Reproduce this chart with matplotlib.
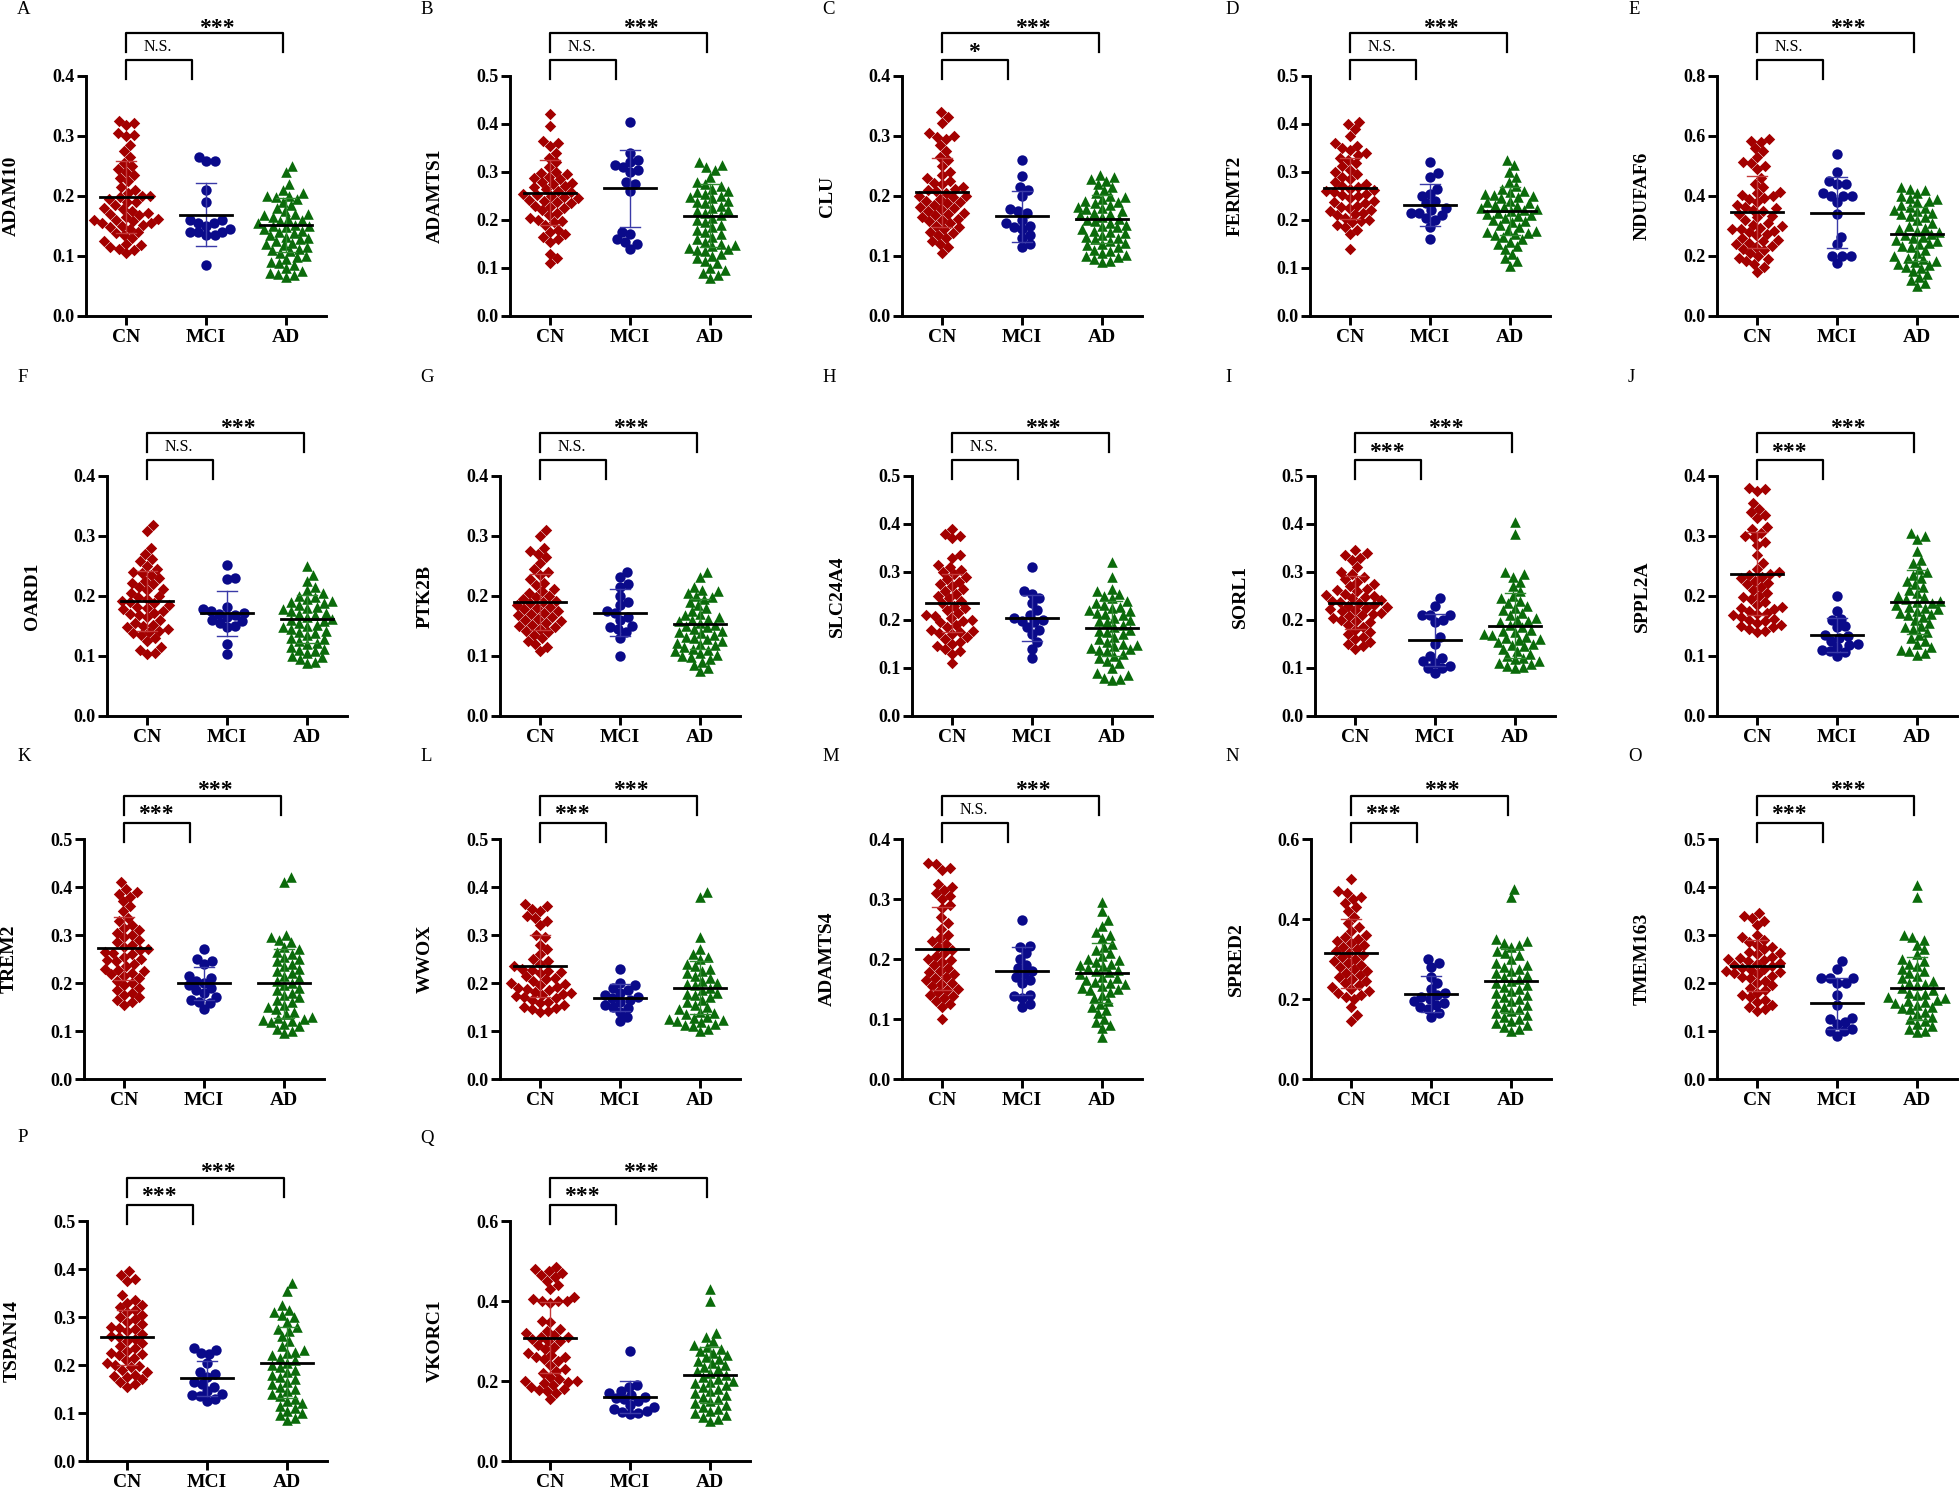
import numpy as np
import matplotlib
matplotlib.use('Agg')
import matplotlib.pyplot as plt
from matplotlib import transforms

plt.rcParams['font.family'] = 'Liberation Serif'

GROUPS = ['CN', 'MCI', 'AD']
GENES = ['ADAM10', 'ADAMTS1', 'CLU', 'FERMT2', 'NDUFAF6', 'OARD1', 'PTK2B', 'SLC24A4', 'SORL1',
         'SPPL2A', 'TREM2', 'WWOX', 'ADAMTS4', 'SPRED2', 'TMEM163', 'TSPAN14', 'VKORC1']
LETTERS = list('ABCDEFGHIJKLMNOPQ')
YMAX = [0.4, 0.5, 0.4, 0.5, 0.8, 0.4, 0.4, 0.5, 0.5, 0.4, 0.5, 0.5, 0.4, 0.6, 0.5, 0.5, 0.6]
YSTEP = [0.1, 0.1, 0.1, 0.1, 0.2, 0.1, 0.1, 0.1, 0.1, 0.1, 0.1, 0.1, 0.1, 0.2, 0.1, 0.1, 0.2]
SIG_MCI = ['N.S.', 'N.S.', '*', 'N.S.', 'N.S.', 'N.S.', 'N.S.', 'N.S.', '***', '***',
           '***', '***', 'N.S.', '***', '***', '***', '***']
SIG_AD = ['***'] * 17

MEAN_CN = [0.198, 0.257, 0.206, 0.266, 0.348, 0.192, 0.190, 0.236, 0.236, 0.237, 0.272, 0.235, 0.217, 0.314, 0.236, 0.258, 0.308]
SD_CN = [0.060, 0.068, 0.058, 0.063, 0.120, 0.050, 0.046, 0.060, 0.055, 0.069, 0.066, 0.065, 0.069, 0.086, 0.053, 0.057, 0.089]
MEAN_MCI = [0.169, 0.266, 0.166, 0.232, 0.345, 0.171, 0.172, 0.205, 0.158, 0.135, 0.199, 0.169, 0.180, 0.213, 0.158, 0.172, 0.160]
SD_MCI = [0.053, 0.080, 0.043, 0.044, 0.117, 0.038, 0.039, 0.048, 0.054, 0.028, 0.035, 0.028, 0.040, 0.045, 0.053, 0.036, 0.039]
MEAN_AD = [0.151, 0.209, 0.161, 0.218, 0.274, 0.162, 0.153, 0.183, 0.188, 0.190, 0.199, 0.190, 0.176, 0.245, 0.189, 0.205, 0.214]
SD_AD = [0.045, 0.065, 0.040, 0.050, 0.090, 0.040, 0.042, 0.057, 0.068, 0.053, 0.072, 0.055, 0.050, 0.080, 0.066, 0.074, 0.070]

ADAM10_CN = [.325, .322, .318, .305, .302, .300, .285, .275, .265, .255, .250, .245, .240, .235, .230, .225, .215, .210,
             .205, .200, .200, .198, .195, .190, .190, .185, .180, .178, .175, .172, .170, .168, .165, .162, .160, .160,
             .158, .155, .155, .152, .150, .148, .145, .140, .138, .135, .130, .125, .120, .118, .115, .112, .110, .105]
ADAM10_MCI = [.265, .258, .258, .210, .190, .160, .160, .155, .155, .150, .145, .140, .140, .140, .135, .135, .085]
ADAM10_AD = [.250, .240, .220, .210, .205, .200, .200, .198, .195, .190, .185, .180, .175, .170, .170, .168, .165, .162,
             .160, .158, .155, .152, .150, .150, .148, .145, .142, .140, .138, .135, .132, .130, .128, .125, .122, .120,
             .118, .115, .112, .110, .108, .105, .100, .098, .095, .090, .088, .085, .080, .075, .072, .070, .068, .065]

ADAMTS1_CN = [.420, .395, .365, .360, .355, .340, .330, .320, .310, .300, .298, .295, .290, .288, .285, .280, .278, .275,
              .270, .268, .265, .260, .258, .255, .252, .250, .248, .245, .242, .240, .238, .235, .230, .228, .225, .220,
              .215, .210, .205, .200, .198, .195, .190, .180, .175, .170, .165, .160, .155, .130, .120, .110]
ADAMTS1_MCI = [.405, .340, .325, .320, .315, .310, .305, .300, .280, .275, .260, .175, .170, .160, .155, .150, .140]
ADAMTS1_AD = [.320, .315, .310, .305, .290, .280, .275, .270, .265, .260, .258, .255, .250, .248, .245, .240, .238, .235,
              .230, .225, .220, .218, .215, .210, .205, .200, .195, .190, .185, .180, .175, .170, .165, .160, .155, .150,
              .148, .145, .142, .140, .138, .135, .130, .125, .120, .115, .110, .100, .095, .090, .085, .080]

CLU_CN = [.340, .332, .322, .305, .300, .298, .295, .285, .275, .265, .260, .250, .240, .235, .230, .225, .222, .220,
          .215, .212, .210, .208, .205, .200, .200, .198, .195, .192, .190, .188, .185, .182, .180, .178, .175, .172,
          .170, .168, .165, .162, .160, .158, .155, .150, .148, .145, .140, .138, .135, .130, .125, .120, .115, .105]
CLU_MCI = [.260, .233, .215, .210, .200, .178, .175, .172, .160, .155, .150, .148, .145, .135, .130, .120, .115]
CLU_AD = [.235, .232, .228, .225, .220, .215, .210, .205, .200, .198, .195, .192, .190, .188, .185, .182, .180, .178,
          .175, .172, .170, .168, .165, .162, .160, .158, .155, .152, .150, .148, .145, .142, .140, .138, .135, .132,
          .130, .128, .125, .122, .120, .118, .115, .110, .108, .105, .102, .100, .098, .095, .092, .090]

FERMT2_CN = [.405, .400, .390, .375, .360, .355, .350, .345, .340, .335, .330, .325, .318, .312, .305, .300, .295, .290,
             .285, .280, .275, .270, .268, .265, .262, .260, .258, .255, .252, .250, .245, .240, .238, .235, .230, .228,
             .225, .220, .218, .215, .212, .210, .205, .200, .198, .195, .190, .185, .180, .170, .140]
FERMT2_MCI = [.320, .298, .290, .265, .255, .250, .240, .235, .225, .220, .215, .215, .210, .205, .200, .185, .160]
FERMT2_AD = [.325, .315, .300, .290, .280, .270, .265, .260, .258, .255, .252, .250, .248, .245, .240, .238, .235, .232,
             .230, .228, .225, .222, .220, .218, .215, .212, .210, .208, .205, .200, .198, .195, .190, .185, .180, .178,
             .175, .172, .170, .168, .165, .160, .155, .150, .145, .140, .130, .120, .115, .105]

NDUFAF6_CN = [.590, .585, .580, .560, .550, .530, .515, .510, .500, .490, .460, .440, .430, .415, .410, .405, .400, .395,
              .390, .380, .370, .365, .360, .355, .350, .340, .335, .330, .320, .310, .305, .300, .295, .290, .290, .285,
              .280, .275, .270, .260, .255, .250, .245, .240, .235, .230, .225, .220, .210, .200, .195, .190, .185, .175,
              .165, .148]
NDUFAF6_MCI = [.540, .480, .450, .440, .440, .410, .400, .400, .400, .380, .340, .265, .240, .200, .200, .200, .178]
NDUFAF6_AD = [.430, .425, .420, .410, .400, .395, .390, .385, .380, .370, .365, .360, .355, .350, .345, .340, .335, .330,
              .320, .310, .300, .295, .290, .285, .280, .275, .270, .265, .260, .255, .250, .245, .240, .235, .230, .220,
              .210, .200, .195, .190, .185, .180, .175, .170, .165, .160, .150, .140, .130, .120, .110, .100]

OARD1_CN = [.318, .308, .280, .270, .262, .258, .250, .245, .240, .238, .235, .230, .225, .222, .220, .215, .212, .210,
            .205, .200, .198, .195, .192, .190, .188, .185, .182, .180, .178, .175, .172, .170, .168, .165, .160, .155,
            .152, .150, .148, .145, .142, .140, .138, .135, .130, .125, .115, .110, .105, .103]
OARD1_MCI = [.252, .230, .228, .182, .178, .175, .172, .170, .168, .165, .160, .158, .155, .150, .148, .120, .103]
OARD1_AD = [.250, .235, .225, .215, .210, .205, .200, .198, .195, .192, .190, .188, .185, .182, .180, .178, .175, .172,
            .170, .168, .165, .162, .160, .158, .155, .152, .150, .148, .145, .142, .140, .138, .135, .130, .128, .125,
            .122, .120, .115, .112, .110, .108, .105, .100, .098, .095, .090, .088]

PTK2B_CN = [.310, .300, .280, .275, .270, .265, .255, .245, .240, .235, .228, .222, .218, .212, .208, .205, .200, .198,
            .195, .192, .190, .188, .185, .182, .180, .178, .175, .172, .170, .168, .165, .162, .160, .158, .155, .152,
            .150, .148, .145, .142, .140, .135, .130, .125, .120, .115, .108]
PTK2B_MCI = [.240, .232, .220, .215, .200, .190, .185, .175, .172, .165, .160, .150, .148, .145, .140, .130, .100]
PTK2B_AD = [.240, .232, .215, .210, .208, .205, .200, .198, .195, .190, .185, .180, .175, .170, .168, .165, .162, .160,
            .158, .155, .152, .150, .148, .145, .142, .140, .138, .135, .132, .130, .128, .125, .122, .120, .118, .115,
            .112, .110, .108, .105, .102, .100, .098, .095, .090, .085, .080, .075]

SLC24A4_CN = [.390, .380, .375, .370, .335, .330, .315, .310, .305, .300, .295, .290, .285, .280, .275, .270, .265, .260,
              .255, .250, .245, .240, .235, .230, .225, .220, .215, .210, .208, .205, .200, .198, .195, .190, .185, .180,
              .178, .175, .172, .170, .165, .160, .155, .150, .145, .140, .135, .130, .110]
SLC24A4_MCI = [.310, .260, .255, .245, .235, .220, .210, .205, .200, .198, .195, .185, .180, .170, .155, .140, .120]
SLC24A4_AD = [.320, .290, .265, .260, .255, .250, .245, .240, .235, .232, .228, .225, .220, .218, .215, .212, .210, .205,
              .200, .198, .195, .190, .185, .180, .178, .175, .170, .165, .160, .155, .150, .148, .145, .142, .140, .138,
              .135, .130, .125, .120, .115, .110, .100, .090, .085, .080, .078, .075]

SORL1_CN = [.345, .340, .335, .330, .325, .310, .300, .295, .290, .285, .280, .275, .270, .265, .262, .260, .255, .252,
            .250, .248, .245, .242, .240, .238, .235, .232, .230, .228, .225, .222, .220, .218, .215, .212, .210, .208,
            .205, .200, .198, .195, .190, .185, .180, .175, .170, .165, .160, .155, .150, .145, .140]
SORL1_MCI = [.245, .230, .210, .210, .210, .200, .195, .165, .150, .125, .120, .115, .110, .105, .100, .100, .090]
SORL1_AD = [.405, .380, .300, .295, .290, .280, .270, .260, .250, .245, .240, .235, .230, .225, .220, .215, .210, .205,
            .200, .198, .195, .190, .185, .180, .178, .175, .170, .168, .165, .162, .160, .158, .155, .150, .148, .145,
            .140, .135, .130, .125, .120, .118, .115, .110, .108, .105, .102, .100]

SPPL2A_CN = [.380, .378, .375, .355, .345, .340, .335, .330, .315, .312, .305, .300, .298, .290, .285, .268, .255, .245,
             .240, .236, .235, .232, .230, .225, .222, .220, .215, .210, .205, .200, .198, .195, .190, .185, .182, .180,
             .178, .175, .172, .170, .168, .165, .162, .160, .158, .155, .152, .150, .148, .145, .142, .140]
SPPL2A_MCI = [.200, .175, .162, .160, .150, .148, .135, .133, .130, .125, .120, .118, .115, .110, .108, .106, .100]
SPPL2A_AD = [.305, .300, .295, .275, .260, .255, .245, .240, .235, .230, .225, .220, .215, .210, .205, .200, .198, .195,
             .192, .190, .188, .185, .182, .180, .178, .175, .172, .170, .168, .165, .160, .155, .150, .148, .145, .140,
             .135, .130, .125, .120, .115, .110, .108, .105, .102]

TREM2_CN = [.410, .395, .390, .385, .380, .370, .360, .350, .335, .330, .320, .315, .310, .305, .300, .295, .290, .285,
            .280, .275, .270, .268, .265, .262, .260, .255, .250, .248, .245, .240, .235, .230, .228, .225, .220, .218,
            .215, .210, .205, .200, .195, .190, .185, .180, .175, .170, .165, .160, .155]
TREM2_MCI = [.270, .250, .245, .240, .215, .210, .205, .200, .195, .190, .185, .180, .170, .165, .160, .158, .145]
TREM2_AD = [.420, .410, .300, .295, .290, .285, .275, .270, .265, .260, .255, .250, .245, .240, .235, .230, .225, .220,
            .215, .210, .205, .200, .195, .190, .185, .180, .175, .170, .165, .160, .155, .150, .145, .140, .135, .130,
            .128, .125, .122, .120, .118, .115, .110, .105, .100, .095]

WWOX_CN = [.365, .360, .355, .350, .340, .335, .330, .320, .300, .295, .280, .270, .260, .250, .245, .240, .235, .230,
           .228, .225, .222, .220, .215, .210, .208, .205, .200, .198, .195, .192, .190, .188, .185, .182, .180, .178,
           .175, .172, .170, .168, .165, .160, .158, .155, .150, .148, .145, .142, .140]
WWOX_MCI = [.230, .200, .195, .190, .185, .180, .175, .170, .168, .165, .160, .155, .150, .148, .140, .130, .120]
WWOX_AD = [.390, .380, .295, .270, .260, .255, .250, .240, .235, .230, .225, .220, .215, .210, .205, .200, .198, .195,
           .190, .185, .180, .178, .175, .170, .165, .160, .155, .150, .145, .140, .138, .135, .130, .128, .125, .122,
           .120, .118, .115, .112, .110, .105, .100]

ADAMTS4_CN = [.360, .358, .352, .348, .325, .320, .315, .310, .305, .300, .290, .285, .270, .260, .250, .240, .235, .230,
              .225, .220, .215, .210, .205, .200, .198, .195, .190, .185, .180, .178, .175, .170, .168, .165, .160, .158,
              .155, .150, .148, .145, .140, .138, .135, .130, .125, .120, .100]
ADAMTS4_MCI = [.265, .222, .220, .210, .200, .190, .185, .180, .175, .170, .165, .160, .140, .138, .135, .125, .120]
ADAMTS4_AD = [.295, .280, .265, .255, .245, .240, .235, .225, .220, .215, .210, .205, .200, .198, .195, .192, .190, .188,
              .185, .182, .180, .178, .175, .170, .168, .165, .162, .160, .158, .155, .152, .150, .148, .145, .140, .135,
              .130, .125, .120, .115, .110, .100, .095, .090, .085, .070]

SPRED2_CN = [.500, .470, .465, .455, .450, .440, .430, .420, .405, .390, .380, .370, .360, .355, .350, .345, .340, .335,
             .330, .325, .320, .315, .310, .305, .300, .295, .290, .285, .280, .275, .270, .265, .260, .255, .250, .245,
             .240, .235, .230, .225, .220, .215, .210, .205, .200, .180, .160, .145]
SPRED2_MCI = [.300, .290, .280, .255, .240, .225, .215, .210, .205, .200, .195, .190, .185, .180, .175, .165, .155]
SPRED2_AD = [.475, .455, .350, .345, .340, .335, .330, .320, .315, .310, .300, .290, .285, .280, .275, .270, .265, .260,
             .255, .250, .245, .240, .235, .230, .225, .220, .215, .210, .205, .200, .195, .190, .185, .180, .175, .170,
             .165, .160, .155, .150, .145, .140, .135, .130, .125, .120]

TMEM163_CN = [.345, .340, .335, .330, .320, .300, .295, .290, .285, .280, .275, .270, .265, .262, .260, .255, .252, .250,
              .248, .245, .242, .240, .238, .235, .232, .230, .228, .225, .222, .220, .218, .215, .212, .210, .205, .200,
              .195, .190, .185, .180, .175, .170, .165, .160, .155, .150, .145, .142]
TMEM163_MCI = [.245, .230, .210, .210, .210, .200, .200, .175, .155, .128, .125, .118, .115, .105, .100, .100, .090]
TMEM163_AD = [.405, .380, .300, .295, .290, .280, .270, .260, .250, .245, .240, .235, .230, .225, .220, .215, .210, .205,
              .200, .198, .195, .190, .185, .180, .178, .175, .170, .168, .165, .162, .160, .158, .155, .150, .148, .145,
              .140, .135, .130, .125, .120, .115, .110, .105, .100, .097]

TSPAN14_CN = [.395, .388, .380, .375, .345, .335, .330, .325, .320, .315, .310, .305, .300, .295, .290, .285, .280, .278,
              .275, .270, .265, .260, .258, .255, .250, .245, .240, .235, .230, .225, .222, .220, .215, .210, .205, .200,
              .198, .195, .190, .185, .180, .178, .175, .170, .165, .160, .155]
TSPAN14_MCI = [.235, .232, .225, .222, .205, .185, .182, .175, .165, .160, .155, .145, .140, .138, .135, .130, .125]
TSPAN14_AD = [.370, .355, .325, .315, .310, .305, .300, .290, .280, .275, .270, .260, .250, .240, .232, .228, .225, .220,
              .215, .210, .205, .200, .195, .190, .185, .180, .175, .170, .165, .160, .155, .150, .145, .140, .135, .130,
              .125, .120, .115, .110, .105, .100, .095, .090, .085]

VKORC1_CN = [.485, .480, .475, .470, .465, .460, .450, .440, .430, .410, .405, .400, .400, .400, .395, .350, .348, .330,
             .325, .320, .315, .310, .310, .305, .300, .300, .290, .285, .280, .270, .265, .260, .260, .255, .250, .240,
             .230, .225, .220, .210, .205, .200, .200, .198, .195, .190, .185, .180, .178, .175, .170, .155]
VKORC1_MCI = [.275, .190, .185, .175, .170, .165, .160, .158, .155, .150, .140, .135, .130, .125, .123, .120, .118]
VKORC1_AD = [.430, .400, .320, .310, .300, .290, .285, .280, .275, .270, .265, .260, .255, .250, .245, .240, .235, .230,
             .225, .220, .215, .210, .205, .200, .198, .195, .190, .185, .180, .175, .170, .165, .160, .155, .150, .145,
             .140, .135, .130, .125, .120, .115, .110, .105, .100]

POINTS = [
    (ADAM10_CN, ADAM10_MCI, ADAM10_AD), (ADAMTS1_CN, ADAMTS1_MCI, ADAMTS1_AD), (CLU_CN, CLU_MCI, CLU_AD),
    (FERMT2_CN, FERMT2_MCI, FERMT2_AD), (NDUFAF6_CN, NDUFAF6_MCI, NDUFAF6_AD), (OARD1_CN, OARD1_MCI, OARD1_AD),
    (PTK2B_CN, PTK2B_MCI, PTK2B_AD), (SLC24A4_CN, SLC24A4_MCI, SLC24A4_AD), (SORL1_CN, SORL1_MCI, SORL1_AD),
    (SPPL2A_CN, SPPL2A_MCI, SPPL2A_AD), (TREM2_CN, TREM2_MCI, TREM2_AD), (WWOX_CN, WWOX_MCI, WWOX_AD),
    (ADAMTS4_CN, ADAMTS4_MCI, ADAMTS4_AD), (SPRED2_CN, SPRED2_MCI, SPRED2_AD), (TMEM163_CN, TMEM163_MCI, TMEM163_AD),
    (TSPAN14_CN, TSPAN14_MCI, TSPAN14_AD), (VKORC1_CN, VKORC1_MCI, VKORC1_AD),
]

# layout in pixels of the 1960x1492 canvas
W, H = 1960, 1492
AX_W, AX_H = 240, 240
ROW_BOTTOM = [316, 716, 1079, 1461]
COL_LEFT = [[86, 510, 902, 1310, 1717], [107, 500, 912, 1315, 1717],
            [84, 500, 902, 1311, 1717], [87, 510]]
LETTER_X = [17, 420, 822, 1225, 1628]
LETTER_Y = [9, 378, 757, 1138]

COLORS = ['#a30000', '#0a0a8a', '#0b6b0b']
BAR_COLORS = ['#c43a3a', '#3a3aa8', '#2f8a2f']
MARKERS = ['D', 'o', '^']
SIZES = [34, 56, 58]


def swarm(vals, px_per_unit, d=8.5):
    vals = np.asarray(vals, dtype=float)
    xs = np.zeros(len(vals))
    placed = []
    for i in np.argsort(vals):
        y = vals[i] * px_per_unit
        cands = [0.0]
        for px, py in placed:
            dy = abs(py - y)
            if dy < d:
                dx = np.sqrt(d * d - dy * dy)
                cands += [px + dx, px - dx]
        cands.sort(key=abs)
        for c in cands:
            if all((c - px) ** 2 + (y - py) ** 2 >= d * d - 1e-6 for px, py in placed):
                break
        xs[i] = c
        placed.append((c, y))
    return xs


fig = plt.figure(figsize=(W / 100, H / 100), dpi=100)

k = 0
for r, lefts in enumerate(COL_LEFT):
    for c, left in enumerate(lefts):
        ax = fig.add_axes([left / W, 1 - ROW_BOTTOM[r] / H, AX_W / W, AX_H / H])
        ymax = YMAX[k]
        ax.set_xlim(-0.5, 2.5)
        ax.set_ylim(0, ymax)
        px_x = AX_W / 3.0
        px_y = AX_H / ymax

        means = [MEAN_CN[k], MEAN_MCI[k], MEAN_AD[k]]
        sds = [SD_CN[k], SD_MCI[k], SD_AD[k]]
        for g in range(3):
            vals = POINTS[k][g]
            xs = g + swarm(vals, px_y) / px_x
            ax.scatter(xs, vals, marker=MARKERS[g], s=SIZES[g], c=COLORS[g],
                       linewidths=0, zorder=3, clip_on=False)
            m, s = means[g], sds[g]
            ax.plot([g, g], [m - s, m + s], color=BAR_COLORS[g], lw=1.0, zorder=4)
            for yy in (m - s, m + s):
                ax.plot([g - 0.13, g + 0.13], [yy, yy], color=BAR_COLORS[g], lw=1.0, zorder=4)
            ax.plot([g - 0.32, g + 0.32], [m, m], color='black', lw=2.0, zorder=5)

        # significance brackets above the axes
        tr = transforms.blended_transform_factory(ax.transData, ax.transAxes)
        def py(p):
            return 1 + p / AX_H
        ax.plot([0, 0, 1.96, 1.96], [py(24), py(43), py(43), py(24)], color='black',
                lw=1.6, transform=tr, clip_on=False)
        ax.plot([0, 0, 0.82, 0.82], [py(-3), py(16), py(16), py(-3)], color='black',
                lw=1.6, transform=tr, clip_on=False)
        ax.text(1.13, py(48), SIG_AD[k], transform=tr, ha='center', va='center',
                fontsize=17, fontweight='bold')
        small = SIG_MCI[k]
        if small == 'N.S.':
            ax.text(0.4, py(29), small, transform=tr, ha='center', va='center', fontsize=11.5)
        else:
            ax.text(0.4, py(24), small, transform=tr, ha='center', va='center',
                    fontsize=17, fontweight='bold')

        ax.spines['top'].set_visible(False)
        ax.spines['right'].set_visible(False)
        ax.spines['left'].set_linewidth(2.1)
        ax.spines['bottom'].set_linewidth(2.1)
        ax.tick_params(direction='out', length=6.5, width=2.1)
        ax.tick_params(axis='y', pad=2)
        ax.tick_params(axis='x', pad=3)
        ticks = np.arange(0, ymax + 1e-9, YSTEP[k])
        ax.set_yticks(ticks)
        ax.set_yticklabels(['%.1f' % t for t in ticks], fontsize=13, fontweight='bold')
        ax.set_xticks([0, 1, 2])
        ax.set_xticklabels(GROUPS, fontsize=14, fontweight='bold')
        ax.text(-75 / AX_W, 0.5, GENES[k], transform=ax.transAxes, rotation=90,
                ha='center', va='center', fontsize=14, fontweight='bold')

        fig.text(LETTER_X[c] / W, 1 - LETTER_Y[r] / H, LETTERS[k], fontsize=13.5,
                 ha='left', va='center')
        k += 1

fig.savefig('out.png', dpi=100)
